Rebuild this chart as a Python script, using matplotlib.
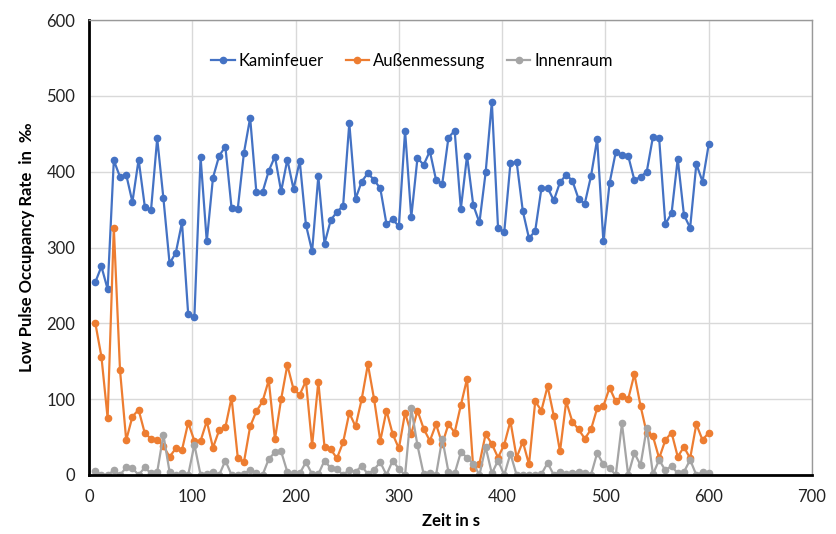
import matplotlib.pyplot as plt
import numpy as np

plt.rcParams['font.family'] = ['Lato', 'DejaVu Sans']

# Messzeitpunkte (alle 6 s)
zeit = np.arange(1, 101) * 6

kaminfeuer = [254, 275, 245, 415, 393, 396, 360, 416, 354, 349,
              444, 365, 279, 293, 333, 212, 208, 419, 308, 392,
              421, 433, 352, 351, 425, 471, 373, 373, 401, 420,
              374, 416, 377, 414, 330, 295, 394, 305, 336, 347,
              355, 464, 364, 387, 398, 389, 378, 331, 337, 328,
              454, 340, 418, 409, 427, 389, 384, 445, 454, 351,
              421, 356, 333, 399, 492, 326, 320, 411, 413, 348,
              312, 322, 378, 379, 362, 386, 396, 388, 364, 358,
              394, 443, 308, 385, 426, 422, 421, 389, 393, 400,
              446, 444, 331, 345, 417, 343, 326, 410, 387, 436]

aussen = [201, 156, 75, 326, 138, 46, 77, 86, 55, 48,
          46, 38, 24, 35, 33, 69, 45, 45, 71, 36,
          59, 63, 102, 23, 17, 64, 84, 97, 125, 47,
          100, 145, 113, 106, 124, 39, 123, 37, 34, 22,
          43, 82, 64, 100, 146, 100, 45, 85, 54, 35,
          82, 54, 85, 61, 45, 67, 41, 67, 56, 92,
          127, 9, 15, 54, 41, 23, 40, 71, 23, 44,
          14, 97, 85, 117, 78, 31, 97, 70, 60, 48,
          60, 88, 91, 115, 97, 104, 100, 133, 91, 55,
          51, 22, 46, 56, 24, 37, 22, 67, 46, 56]

innen = [5, 0, 0, 6, 0, 10, 9, 0, 10, 2,
         4, 53, 4, 0, 2, 0, 40, 0, 1, 4,
         0, 19, 0, 0, 1, 7, 2, 0, 21, 30,
         31, 4, 2, 2, 17, 1, 1, 19, 9, 8,
         0, 7, 4, 12, 1, 7, 17, 0, 19, 8,
         0, 88, 39, 1, 2, 0, 48, 4, 2, 30,
         23, 15, 0, 37, 2, 19, 0, 28, 0, 0,
         0, 0, 1, 16, 0, 4, 1, 3, 4, 2,
         0, 29, 14, 9, 0, 68, 0, 29, 13, 62,
         1, 20, 6, 12, 2, 4, 20, 0, 4, 3]

fig = plt.figure(figsize=(8.36, 5.34), dpi=100)
ax = fig.add_axes([0.1065, 0.1105, 0.8648, 0.852])

ax.plot(zeit, kaminfeuer, color='#4472C4', lw=1.6, marker='o', ms=4.5, label='Kaminfeuer')
ax.plot(zeit, aussen, color='#ED7D31', lw=1.6, marker='o', ms=4.5, label='Außenmessung')
ax.plot(zeit, innen, color='#A5A5A5', lw=1.6, marker='o', ms=4.5, label='Innenraum')

ax.set_xlim(0, 700)
ax.set_ylim(0, 600)
ax.set_xticks(range(0, 701, 100))
ax.set_yticks(range(0, 601, 100))
ax.grid(True, color='#d9d9d9', lw=1)
ax.set_axisbelow(True)
ax.tick_params(length=0, labelsize=12, pad=10, colors='#222222')

for s in ['left', 'bottom']:
    ax.spines[s].set_linewidth(2)
    ax.spines[s].set_color('black')
for s in ['top', 'right']:
    ax.spines[s].set_linewidth(1)
    ax.spines[s].set_color('#999999')

ax.set_xlabel('Zeit in s', fontsize=12, fontweight='bold', labelpad=6)
ax.set_ylabel('Low Pulse Occupancy Rate  in  ‰', fontsize=12, fontweight='bold', labelpad=8)

ax.legend(loc='center', bbox_to_anchor=(0.447, 0.91), ncol=3, frameon=False,
          fontsize=12, handlelength=1.4, handletextpad=0.25, columnspacing=1.3)

fig.savefig('out.png', dpi=100)
